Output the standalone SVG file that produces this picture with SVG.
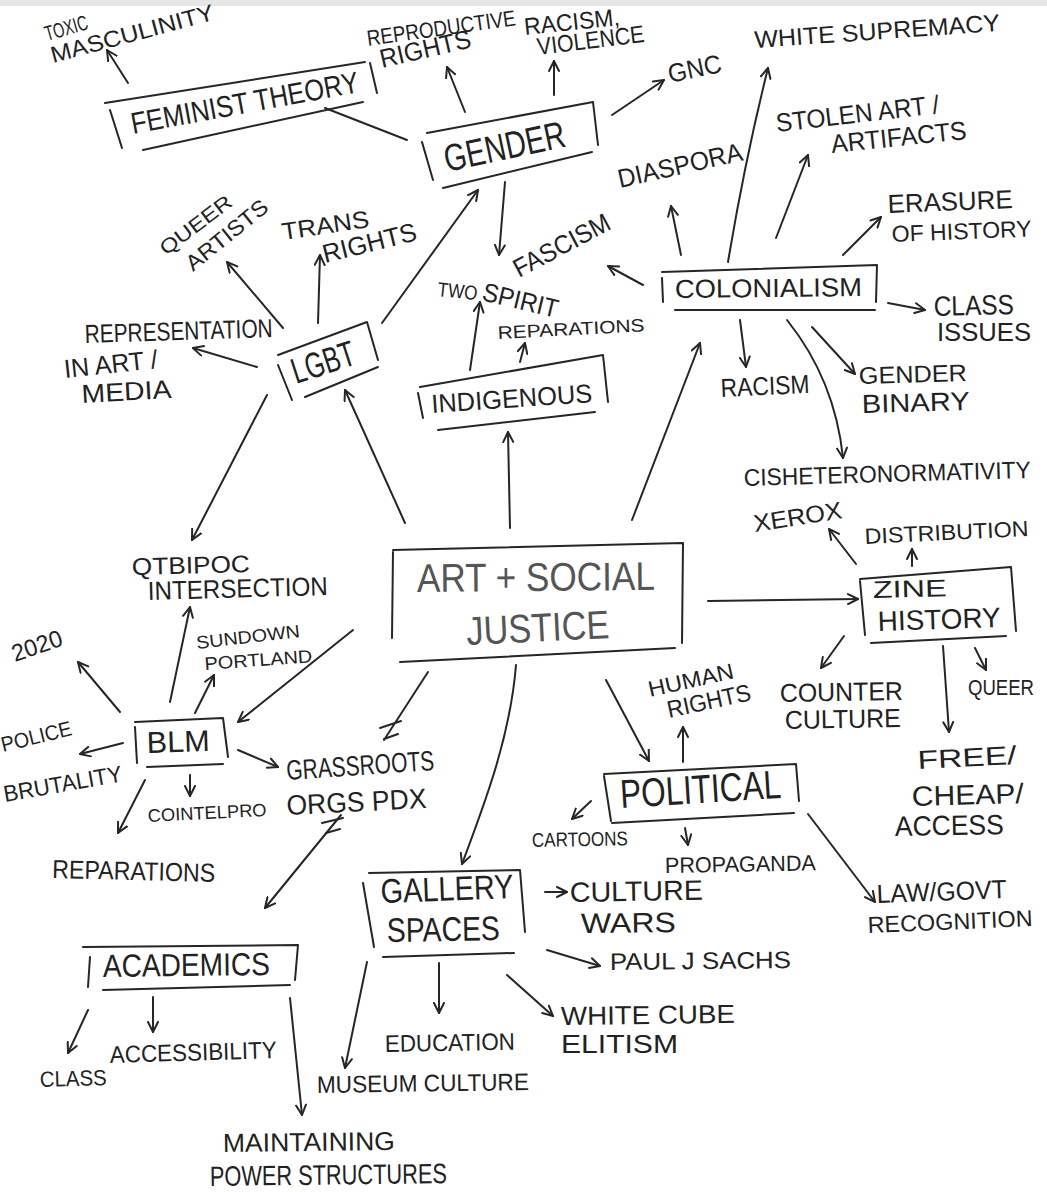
<svg xmlns="http://www.w3.org/2000/svg" width="1047" height="1192" viewBox="0 0 1047 1192">
<style>
text{font-family:"Liberation Sans","DejaVu Sans",sans-serif;fill:#222;}
.c{fill:#555;}
.box{fill:none;stroke:#262626;stroke-width:2;stroke-linecap:round;stroke-linejoin:round;}
.ln{fill:none;stroke:#262626;stroke-width:2;stroke-linecap:round;}
.ar{fill:none;stroke:#262626;stroke-width:2;stroke-linecap:round;marker-end:url(#ah);}
</style>
<defs>
<marker id="ah" viewBox="0 0 12 12" refX="11" refY="6" markerWidth="12" markerHeight="12" markerUnits="userSpaceOnUse" orient="auto">
<path d="M1,1 L11,6 L1,11" fill="none" stroke="#262626" stroke-width="2" stroke-linecap="round" stroke-linejoin="round"/>
</marker>
</defs>
<rect x="0" y="0" width="1047" height="1192" fill="#ffffff"/>
<rect x="0" y="0" width="1047" height="6" fill="#e6e6e6"/>

<g id="connectors">
<path class="ar" d="M128,83 L107,50"/>
<path class="ar" d="M465,112 L447,67"/>
<path class="ar" d="M554,95 L554,61"/>
<path class="ar" d="M612,115 L664,80"/>
<path class="ln" d="M325,108 L407,140"/>
<path class="ar" d="M505,182 L499,255"/>
<path class="ar" d="M382,323 L478,190"/>
<path class="ar" d="M728,262 Q745,160 768,68"/>
<path class="ar" d="M776,238 L808,155"/>
<path class="ar" d="M681,255 L671,206"/>
<path class="ar" d="M843,255 L881,217"/>
<path class="ar" d="M643,285 L608,266"/>
<path class="ar" d="M470,370 L480,302"/>
<path class="ar" d="M520,362 L525,343"/>
<path class="ar" d="M888,303 L925,310"/>
<path class="ar" d="M740,320 L746,367"/>
<path class="ar" d="M812,327 L855,374"/>
<path class="ar" d="M787,320 Q835,380 843,458"/>
<path class="ar" d="M632,520 L700,343"/>
<path class="ar" d="M510,528 L508,432"/>
<path class="ar" d="M405,523 L345,390"/>
<path class="ar" d="M267,395 L192,540"/>
<path class="ar" d="M257,367 L193,348"/>
<path class="ar" d="M283,328 L227,262"/>
<path class="ar" d="M318,323 L320,255"/>
<path class="ar" d="M708,601 L858,599"/>
<path class="ar" d="M856,564 L829,529"/>
<path class="ar" d="M912,566 L912,549"/>
<path class="ar" d="M844,636 L821,668"/>
<path class="ar" d="M975,648 L986,670"/>
<path class="ar" d="M943,646 L949,732"/>
<path class="ar" d="M606,680 L649,761"/>
<path class="ar" d="M683,762 L683,727"/>
<path class="ar" d="M591,801 L572,819"/>
<path class="ar" d="M685,828 L688,845"/>
<path class="ar" d="M808,814 L875,902"/>
<path class="ar" d="M516,665 C510,740 482,810 462,864"/>
<path class="ar" d="M545,892 L567,892"/>
<path class="ar" d="M547,950 L600,966"/>
<path class="ar" d="M439,963 L439,1013"/>
<path class="ar" d="M507,975 L553,1016"/>
<path class="ar" d="M367,962 L345,1068"/>
<path class="ar" d="M88,1010 L68,1053"/>
<path class="ar" d="M153,997 L153,1032"/>
<path class="ar" d="M290,998 L302,1115"/>
<path class="ar" d="M353,630 L238,722"/>
<path class="ar" d="M120,712 L78,662"/>
<path class="ar" d="M123,743 L80,754"/>
<path class="ar" d="M170,702 L190,607"/>
<path class="ar" d="M195,713 L214,675"/>
<path class="ar" d="M190,775 L190,796"/>
<path class="ar" d="M145,780 L118,833"/>
<path class="ar" d="M238,750 L278,767"/>
<path class="ln" d="M428,672 L384,740 M380,728 L401,721 M384,739 L398,734"/>
<path class="ar" d="M341,815 L265,908"/>
<path class="ln" d="M322,823 L343,818 M326,833 L340,829"/>
</g>

<g id="n-art"><path class="box" d="M393,550 L683,543 L682,643 M400,662 L675,648 M393,552 L392,638"/>
<text class="c" transform="translate(417,592) rotate(-0.5)" font-size="40" textLength="238" lengthAdjust="spacingAndGlyphs">ART + SOCIAL</text>
<text class="c" transform="translate(467,645) rotate(-2.8)" font-size="40" textLength="143" lengthAdjust="spacingAndGlyphs">JUSTICE</text></g>

<g id="n-feminist"><path class="box" d="M105,103 L365,62 M370,63 L377,93 M143,150 L363,102 M110,110 L122,148"/>
<text transform="translate(133,134) rotate(-10.5)" font-size="30" textLength="231" lengthAdjust="spacingAndGlyphs">FEMINIST THEORY</text></g>

<g id="n-gender"><path class="box" d="M427,133 L593,102 L598,145 M443,188 L592,152 M422,142 L433,180"/>
<text transform="translate(447,172) rotate(-12)" font-size="38" textLength="123" lengthAdjust="spacingAndGlyphs">GENDER</text></g>

<g id="n-lgbt"><path class="box" d="M278,355 L367,322 L378,360 M305,397 L378,367 M278,365 L292,400"/>
<text transform="translate(296,384) rotate(-18)" font-size="36" textLength="65" lengthAdjust="spacingAndGlyphs">LGBT</text></g>

<g id="n-indigenous"><path class="box" d="M420,387 L603,355 L608,402 M438,430 L595,412 M418,393 L423,418"/>
<text transform="translate(432,413) rotate(-3.9)" font-size="26" textLength="161" lengthAdjust="spacingAndGlyphs">INDIGENOUS</text></g>

<g id="n-colonialism"><path class="box" d="M662,272 L877,265 L876,302 M675,310 L875,310 M662,278 L663,302"/>
<text transform="translate(675,298) rotate(-0.6)" font-size="26" textLength="187" lengthAdjust="spacingAndGlyphs">COLONIALISM</text></g>

<g id="n-zine"><path class="box" d="M860,579 L1011,567 L1016,631 M871,643 L1006,636 M860,581 L865,635"/>
<text transform="translate(873,598) rotate(-1.5)" font-size="24" textLength="74" lengthAdjust="spacingAndGlyphs">ZINE</text>
<text transform="translate(878,631) rotate(-1.9)" font-size="28" textLength="123" lengthAdjust="spacingAndGlyphs">HISTORY</text></g>

<g id="n-blm"><path class="box" d="M135,722 L223,718 L228,757 M147,767 L223,764 M135,727 L137,763"/>
<text transform="translate(147,753) rotate(-1.8)" font-size="30" textLength="63" lengthAdjust="spacingAndGlyphs">BLM</text></g>

<g id="n-political"><path class="box" d="M604,774 L796,764 L799,801 M612,823 L794,813 M604,776 L611,821"/>
<text transform="translate(621,808) rotate(-3.6)" font-size="40" textLength="161" lengthAdjust="spacingAndGlyphs">POLITICAL</text></g>

<g id="n-gallery"><path class="box" d="M369,873 L520,870 L525,932 M383,957 L514,953 M363,883 L374,947"/>
<text transform="translate(381,903) rotate(-2.2)" font-size="34" textLength="133" lengthAdjust="spacingAndGlyphs">GALLERY</text>
<text transform="translate(387,942) rotate(-1)" font-size="34" textLength="113" lengthAdjust="spacingAndGlyphs">SPACES</text></g>

<g id="n-academics"><path class="box" d="M83,947 L298,945 L295,980 M103,990 L290,985 M90,957 L88,987"/>
<text transform="translate(103,977) rotate(-0.7)" font-size="32" textLength="167" lengthAdjust="spacingAndGlyphs">ACADEMICS</text></g>

<g id="t-toxic">
<text transform="translate(47,41) rotate(-16)" font-size="21" textLength="44" lengthAdjust="spacingAndGlyphs">TOXIC</text>
<text transform="translate(53,63) rotate(-15)" font-size="23" textLength="168" lengthAdjust="spacingAndGlyphs">MASCULINITY</text></g>
<g id="t-reprod">
<text transform="translate(368,46) rotate(-8)" font-size="22" textLength="150" lengthAdjust="spacingAndGlyphs">REPRODUCTIVE</text>
<text transform="translate(382,68) rotate(-13)" font-size="26" textLength="93" lengthAdjust="spacingAndGlyphs">RIGHTS</text></g>
<g id="t-racism-violence">
<text transform="translate(525,35) rotate(-6)" font-size="24" textLength="96" lengthAdjust="spacingAndGlyphs">RACISM,</text>
<text transform="translate(538,55) rotate(-7)" font-size="24" textLength="108" lengthAdjust="spacingAndGlyphs">VIOLENCE</text></g>
<g id="t-gnc"><text transform="translate(670,83) rotate(-12)" font-size="26" textLength="54" lengthAdjust="spacingAndGlyphs">GNC</text></g>
<g id="t-white-supremacy"><text transform="translate(755,48) rotate(-4)" font-size="24" textLength="246" lengthAdjust="spacingAndGlyphs">WHITE SUPREMACY</text></g>
<g id="t-stolen">
<text transform="translate(777,132) rotate(-6.6)" font-size="26" textLength="164" lengthAdjust="spacingAndGlyphs">STOLEN ART /</text>
<text transform="translate(832,153) rotate(-5.9)" font-size="26" textLength="136" lengthAdjust="spacingAndGlyphs">ARTIFACTS</text></g>
<g id="t-diaspora"><text transform="translate(620,188) rotate(-12.7)" font-size="26" textLength="127" lengthAdjust="spacingAndGlyphs">DIASPORA</text></g>
<g id="t-erasure">
<text transform="translate(888,213) rotate(-2.3)" font-size="26" textLength="125" lengthAdjust="spacingAndGlyphs">ERASURE</text>
<text transform="translate(892,242) rotate(-2.3)" font-size="23" textLength="140" lengthAdjust="spacingAndGlyphs">OF HISTORY</text></g>
<g id="t-fascism"><text transform="translate(519,278) rotate(-28)" font-size="26" textLength="106" lengthAdjust="spacingAndGlyphs">FASCISM</text></g>
<g id="t-two-spirit">
<text transform="translate(437,296) rotate(6)" font-size="20" textLength="40" lengthAdjust="spacingAndGlyphs">TWO</text>
<text transform="translate(481,300) rotate(13.5)" font-size="26" textLength="77" lengthAdjust="spacingAndGlyphs">SPIRIT</text></g>
<g id="t-reparations-ind"><text transform="translate(498,339) rotate(-3)" font-size="18" textLength="147" lengthAdjust="spacingAndGlyphs">REPARATIONS</text></g>
<g id="t-class-issues">
<text transform="translate(934,316) rotate(-1.4)" font-size="28" textLength="80" lengthAdjust="spacingAndGlyphs">CLASS</text>
<text transform="translate(937,341)" font-size="26" textLength="94" lengthAdjust="spacingAndGlyphs">ISSUES</text></g>
<g id="t-racism"><text transform="translate(721,397) rotate(-2.6)" font-size="26" textLength="89" lengthAdjust="spacingAndGlyphs">RACISM</text></g>
<g id="t-gender-binary">
<text transform="translate(859,384) rotate(-1.6)" font-size="24" textLength="108" lengthAdjust="spacingAndGlyphs">GENDER</text>
<text transform="translate(862,413) rotate(-1.6)" font-size="26" textLength="108" lengthAdjust="spacingAndGlyphs">BINARY</text></g>
<g id="t-cishet"><text transform="translate(744,486) rotate(-1.6)" font-size="24" textLength="287" lengthAdjust="spacingAndGlyphs">CISHETERONORMATIVITY</text></g>
<g id="t-xerox"><text transform="translate(755,532) rotate(-9)" font-size="24" textLength="89" lengthAdjust="spacingAndGlyphs">XEROX</text></g>
<g id="t-distribution"><text transform="translate(865,544) rotate(-2.8)" font-size="22" textLength="164" lengthAdjust="spacingAndGlyphs">DISTRIBUTION</text></g>
<g id="t-counter">
<text transform="translate(780,702) rotate(-1)" font-size="26" textLength="123" lengthAdjust="spacingAndGlyphs">COUNTER</text>
<text transform="translate(785,729) rotate(-1)" font-size="26" textLength="116" lengthAdjust="spacingAndGlyphs">CULTURE</text></g>
<g id="t-queer"><text transform="translate(968,695)" font-size="22" textLength="66" lengthAdjust="spacingAndGlyphs">QUEER</text></g>
<g id="t-free">
<text transform="translate(918,769) rotate(-2.9)" font-size="26" textLength="99" lengthAdjust="spacingAndGlyphs">FREE/</text>
<text transform="translate(912,806) rotate(-1.5)" font-size="28" textLength="112" lengthAdjust="spacingAndGlyphs">CHEAP/</text>
<text transform="translate(895,836) rotate(-1)" font-size="28" textLength="109" lengthAdjust="spacingAndGlyphs">ACCESS</text></g>
<g id="t-human-rights">
<text transform="translate(650,697) rotate(-12.6)" font-size="22" textLength="87" lengthAdjust="spacingAndGlyphs">HUMAN</text>
<text transform="translate(669,718) rotate(-12.2)" font-size="24" textLength="85" lengthAdjust="spacingAndGlyphs">RIGHTS</text></g>
<g id="t-cartoons"><text transform="translate(532,847) rotate(-1)" font-size="20" textLength="96" lengthAdjust="spacingAndGlyphs">CARTOONS</text></g>
<g id="t-propaganda"><text transform="translate(665,873) rotate(-1)" font-size="22" textLength="151" lengthAdjust="spacingAndGlyphs">PROPAGANDA</text></g>
<g id="t-law">
<text transform="translate(877,903) rotate(-2.2)" font-size="26" textLength="130" lengthAdjust="spacingAndGlyphs">LAW/GOVT</text>
<text transform="translate(868,933) rotate(-2.4)" font-size="23" textLength="165" lengthAdjust="spacingAndGlyphs">RECOGNITION</text></g>
<g id="t-culture-wars">
<text transform="translate(570,902) rotate(-1)" font-size="28" textLength="133" lengthAdjust="spacingAndGlyphs">CULTURE</text>
<text transform="translate(581,933) rotate(-0.6)" font-size="28" textLength="95" lengthAdjust="spacingAndGlyphs">WARS</text></g>
<g id="t-paul"><text transform="translate(610,970) rotate(-0.6)" font-size="24" textLength="181" lengthAdjust="spacingAndGlyphs">PAUL J SACHS</text></g>
<g id="t-white-cube">
<text transform="translate(561,1025) rotate(-0.7)" font-size="26" textLength="174" lengthAdjust="spacingAndGlyphs">WHITE CUBE</text>
<text transform="translate(561,1053)" font-size="26" textLength="117" lengthAdjust="spacingAndGlyphs">ELITISM</text></g>
<g id="t-education"><text transform="translate(385,1052) rotate(-1)" font-size="24" textLength="130" lengthAdjust="spacingAndGlyphs">EDUCATION</text></g>
<g id="t-museum"><text transform="translate(317,1093) rotate(-0.8)" font-size="24" textLength="212" lengthAdjust="spacingAndGlyphs">MUSEUM CULTURE</text></g>
<g id="t-class"><text transform="translate(40,1087) rotate(-1.7)" font-size="22" textLength="67" lengthAdjust="spacingAndGlyphs">CLASS</text></g>
<g id="t-accessibility"><text transform="translate(110,1063) rotate(-1.7)" font-size="24" textLength="167" lengthAdjust="spacingAndGlyphs">ACCESSIBILITY</text></g>
<g id="t-maintaining">
<text transform="translate(223,1152) rotate(-0.7)" font-size="26" textLength="172" lengthAdjust="spacingAndGlyphs">MAINTAINING</text>
<text transform="translate(210,1186) rotate(-0.7)" font-size="28" textLength="237" lengthAdjust="spacingAndGlyphs">POWER STRUCTURES</text></g>
<g id="t-reparations-blm"><text transform="translate(52,878) rotate(1.4)" font-size="26" textLength="163" lengthAdjust="spacingAndGlyphs">REPARATIONS</text></g>
<g id="t-police">
<text transform="translate(3,752) rotate(-13.7)" font-size="21" textLength="72" lengthAdjust="spacingAndGlyphs">POLICE</text>
<text transform="translate(5,802) rotate(-10)" font-size="23" textLength="120" lengthAdjust="spacingAndGlyphs">BRUTALITY</text></g>
<g id="t-cointelpro"><text transform="translate(148,822) rotate(-2.9)" font-size="18" textLength="119" lengthAdjust="spacingAndGlyphs">COINTELPRO</text></g>
<g id="t-2020"><text transform="translate(15,662) rotate(-19)" font-size="24" textLength="52" lengthAdjust="spacingAndGlyphs">2020</text></g>
<g id="t-qtbipoc">
<text transform="translate(132,575) rotate(-1.5)" font-size="24" textLength="118" lengthAdjust="spacingAndGlyphs">QTBIPOC</text>
<text transform="translate(148,600) rotate(-1.6)" font-size="26" textLength="180" lengthAdjust="spacingAndGlyphs">INTERSECTION</text></g>
<g id="t-sundown">
<text transform="translate(197,649) rotate(-6.6)" font-size="18" textLength="104" lengthAdjust="spacingAndGlyphs">SUNDOWN</text>
<text transform="translate(205,670) rotate(-4.2)" font-size="18" textLength="108" lengthAdjust="spacingAndGlyphs">PORTLAND</text></g>
<g id="t-grassroots">
<text transform="translate(287,780) rotate(-3.9)" font-size="28" textLength="148" lengthAdjust="spacingAndGlyphs">GRASSROOTS</text>
<text transform="translate(287,815) rotate(-2.9)" font-size="28" textLength="140" lengthAdjust="spacingAndGlyphs">ORGS PDX</text></g>
<g id="t-queer-artists">
<text transform="translate(166,256) rotate(-37)" font-size="20" textLength="85" lengthAdjust="spacingAndGlyphs">QUEER</text>
<text transform="translate(193,272) rotate(-39)" font-size="22" textLength="99" lengthAdjust="spacingAndGlyphs">ARTISTS</text></g>
<g id="t-trans-rights">
<text transform="translate(283,240) rotate(-8.5)" font-size="24" textLength="88" lengthAdjust="spacingAndGlyphs">TRANS</text>
<text transform="translate(325,263) rotate(-13.9)" font-size="26" textLength="96" lengthAdjust="spacingAndGlyphs">RIGHTS</text></g>
<g id="t-representation">
<text transform="translate(85,343) rotate(-1.8)" font-size="26" textLength="188" lengthAdjust="spacingAndGlyphs">REPRESENTATION</text>
<text transform="translate(65,378) rotate(-6.1)" font-size="26" textLength="94" lengthAdjust="spacingAndGlyphs">IN ART /</text>
<text transform="translate(82,403) rotate(-3.2)" font-size="26" textLength="90" lengthAdjust="spacingAndGlyphs">MEDIA</text></g>
</svg>
